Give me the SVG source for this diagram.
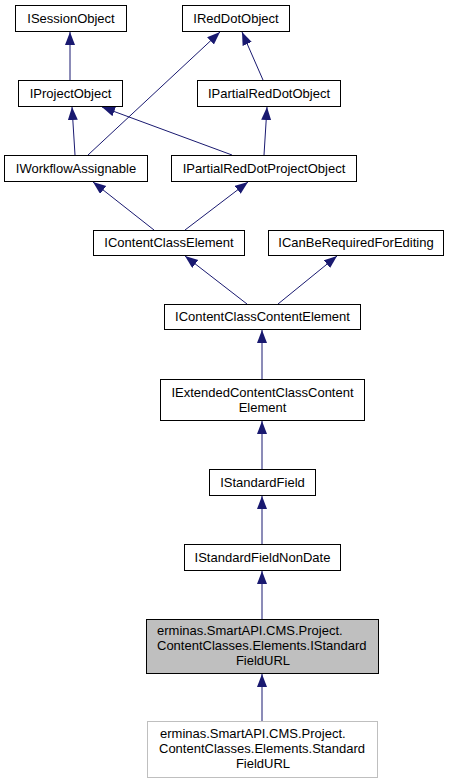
<svg xmlns="http://www.w3.org/2000/svg" width="449" height="784" viewBox="0 0 449 784">
<style>
.n rect{fill:#ffffff;stroke:#000000;stroke-width:1}
.n text{font-family:"Liberation Sans",Arial,sans-serif;font-size:13px;fill:#000000;text-anchor:middle}
.n text.l{text-anchor:start}
#cur rect{fill:#bfbfbf}
#der rect{stroke:#bfbfbf}
#edges path{fill:none;stroke:#191970;stroke-width:1;marker-end:url(#ah)}
</style>
<defs>
<marker id="ah" markerUnits="userSpaceOnUse" markerWidth="14" markerHeight="11" refX="13" refY="5" orient="auto">
<path d="M0,0 L13,5 L0,10 z" fill="#191970" stroke="none"/>
</marker>
</defs>
<rect width="449" height="784" fill="#ffffff"/>
<g id="edges">
<path d="M70,80 L70,32"/>
<path d="M88,155 L220,32"/>
<path d="M263,80 L242,32"/>
<path d="M75,155 L72,107"/>
<path d="M232,155 L102,107"/>
<path d="M264,155 L267,107"/>
<path d="M154,230 L93,182"/>
<path d="M185,230 L248,182"/>
<path d="M247,304 L185,256"/>
<path d="M278,304 L337,256"/>
<path d="M262,379 L262,330"/>
<path d="M262,469 L262,421"/>
<path d="M262,544 L262,496"/>
<path d="M262,619 L262,571"/>
<path d="M262,721 L262,674"/>
</g>
<g id="ISessionObject" class="n"><rect x="15.5" y="5.5" width="111" height="26"/><text x="71" y="23">ISessionObject</text></g>
<g id="IRedDotObject" class="n"><rect x="182.5" y="5.5" width="107" height="26"/><text x="236" y="23">IRedDotObject</text></g>
<g id="IProjectObject" class="n"><rect x="18.5" y="80.5" width="104" height="26"/><text x="70.5" y="98">IProjectObject</text></g>
<g id="IPartialRedDotObject" class="n"><rect x="197.5" y="80.5" width="143" height="26"/><text x="269" y="98">IPartialRedDotObject</text></g>
<g id="IWorkflowAssignable" class="n"><rect x="4.5" y="155.5" width="143" height="26"/><text x="76" y="173">IWorkflowAssignable</text></g>
<g id="IPartialRedDotProjectObject" class="n"><rect x="171.5" y="155.5" width="185" height="26"/><text x="264" y="173">IPartialRedDotProjectObject</text></g>
<g id="IContentClassElement" class="n"><rect x="93.5" y="230.5" width="151" height="25"/><text x="169" y="247">IContentClassElement</text></g>
<g id="ICanBeRequiredForEditing" class="n"><rect x="268.5" y="230.5" width="175" height="25"/><text x="356" y="247">ICanBeRequiredForEditing</text></g>
<g id="IContentClassContentElement" class="n"><rect x="164.5" y="304.5" width="196" height="25"/><text x="262.5" y="321">IContentClassContentElement</text></g>
<g id="IExtendedContentClassContentElement" class="n"><rect x="160.5" y="379.5" width="204" height="41"/><text x="262.5" y="397">IExtendedContentClassContent</text><text x="262.5" y="412">Element</text></g>
<g id="IStandardField" class="n"><rect x="209.5" y="469.5" width="106" height="26"/><text x="262.5" y="487">IStandardField</text></g>
<g id="IStandardFieldNonDate" class="n"><rect x="184.5" y="544.5" width="156" height="26"/><text x="262.5" y="562">IStandardFieldNonDate</text></g>
<g id="cur" class="n"><rect x="146.5" y="619.5" width="232" height="54"/><text class="l" x="157" y="635">erminas.SmartAPI.CMS.Project.</text><text class="l" x="157" y="650">ContentClasses.Elements.IStandard</text><text x="263" y="665">FieldURL</text></g>
<g id="der" class="n"><rect x="147.5" y="721.5" width="230" height="56"/><text class="l" x="160" y="738">erminas.SmartAPI.CMS.Project.</text><text class="l" x="159" y="753">ContentClasses.Elements.Standard</text><text x="263" y="768">FieldURL</text></g>
</svg>
